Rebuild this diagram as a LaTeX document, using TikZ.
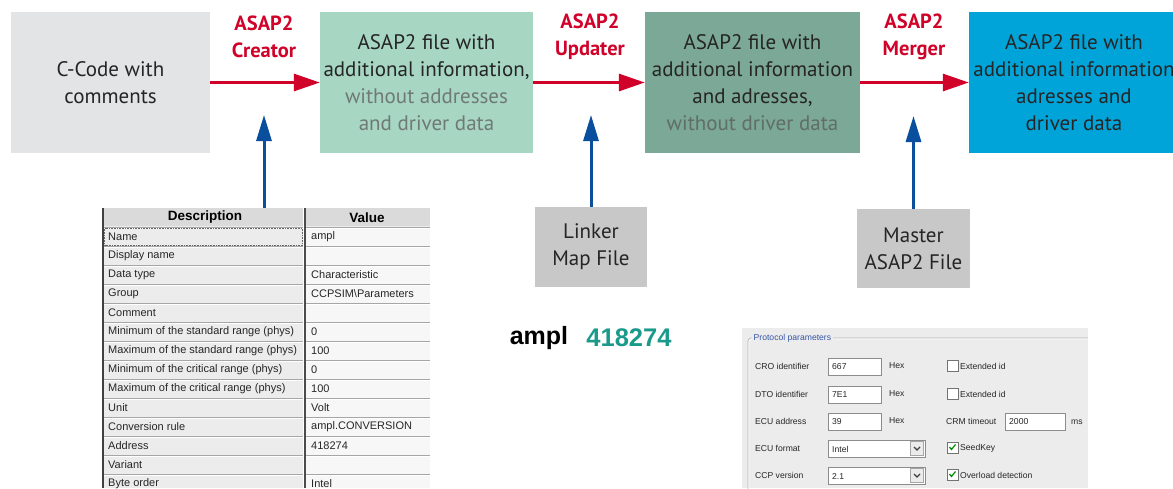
\documentclass[tikz,border=0pt]{standalone}
\usepackage{fontspec}
\setmainfont{Liberation Sans}
\newfontfamily\boxfont{PT Sans}
\newfontfamily\tabfont{Liberation Sans}
\usetikzlibrary{arrows.meta}
\definecolor{ccgray}{HTML}{E3E4E6}
\definecolor{grnA}{HTML}{A7D6C3}
\definecolor{grnB}{HTML}{7CA897}
\definecolor{bluebox}{HTML}{00A4D8}
\definecolor{srcgray}{HTML}{C8C8C8}
\definecolor{redarr}{HTML}{D0022A}
\definecolor{bluearr}{HTML}{0A4F9E}
\definecolor{txtdark}{HTML}{252525}
\definecolor{txtgrayA}{HTML}{6F7A75}
\definecolor{txtgrayB}{HTML}{5F6E67}
\definecolor{tealnum}{HTML}{1A9A8A}
\definecolor{panelbg}{HTML}{ECECEC}
\definecolor{tabbg}{HTML}{ECECEC}
\definecolor{tabhead}{HTML}{DADADA}
\definecolor{grplbl}{HTML}{3555A5}
\begin{document}
\begin{tikzpicture}[x=1pt,y=-1pt,
  flowbox/.style={rectangle, inner sep=0pt, align=center, text=txtdark,
    font=\boxfont\fontsize{21}{27}\selectfont},
  srcbox/.style={flowbox, fill=srcgray},
  toollbl/.style={align=center, text=redarr, inner sep=0pt,
    font=\boxfont\bfseries\fontsize{20.5}{27}\selectfont},
  redflow/.style={draw=redarr, line width=3pt, -{Triangle[length=26pt,width=17pt]}},
  blueflow/.style={draw=bluearr, line width=3pt, -{Triangle[length=26pt,width=15pt]}},
  tabtxt/.style={inner sep=0pt, anchor=west, text=black!85, font=\tabfont\fontsize{11}{12}\selectfont},
  ptxt/.style={inner sep=0pt, anchor=west, text=black!85, font=\tabfont\fontsize{8.6}{10}\selectfont},
  field/.style={draw=black!45, fill=white, line width=0.6pt},
  chk/.style={draw=black!55, fill=white, line width=0.7pt},
]
\useasboundingbox (0,0) rectangle (1173,488);
\clip (0,0) rectangle (1173,488);
\fill[white] (0,0) rectangle (1173,488);

% ---- main flow boxes ----
\node[flowbox, fill=ccgray, minimum width=199pt, minimum height=141pt] (cc) at (110.5,82.5)
  {C-Code with\\comments};
\node[flowbox, fill=grnA, minimum width=213pt, minimum height=141pt] (f1) at (426.5,82.5)
  {ASAP2 file with\\additional information,\\\textcolor{txtgrayA}{without addresses}\\\textcolor{txtgrayA}{and driver data}};
\node[flowbox, fill=grnB, minimum width=215pt, minimum height=141pt] (f2) at (752.5,82.5)
  {ASAP2 file with\\additional information\\and adresses,\\\textcolor{txtgrayB}{without driver data}};
\node[flowbox, fill=bluebox, minimum width=210pt, minimum height=141pt] (f3) at (1074,82.5)
  {ASAP2 file with\\additional information\\adresses and\\driver data};

% ---- tool labels ----
\node[toollbl] (crt) at (264,37) {ASAP2\\Creator};
\node[toollbl] (upd) at (590,37) {ASAP2\\Updater};
\node[toollbl] (mrg) at (914,37) {ASAP2\\Merger};

% ---- red arrows ----
\draw[redflow] (cc.east) -- (f1.west);
\draw[redflow] (f1.east) -- (f2.west);
\draw[redflow] (f2.east) -- (f3.west);

% ---- sources ----
\node[srcbox, minimum width=112pt, minimum height=80pt] (lk) at (591,247) {Linker\\Map File};
\node[srcbox, minimum width=113pt, minimum height=79pt] (ms) at (913.5,248.5) {Master\\ASAP2 File};

% ---- table ----
\node[rectangle, inner sep=0pt, minimum width=328pt, minimum height=280pt] (tbl) at (266,348) {};
\fill[tabbg] (102,208) rectangle (430,488);
\fill[tabhead] (102,208) rectangle (430,226);
\fill[black!3] (306,227) rectangle (430,488);
\foreach \d/\v [count=\i from 0] in {
  Name/ampl, Display name/, Data type/Characteristic,
  Group/CCPSIM\textbackslash Parameters, Comment/,
  Minimum of the standard range (phys)/0,
  Maximum of the standard range (phys)/100,
  Minimum of the critical range (phys)/0,
  Maximum of the critical range (phys)/100,
  Unit/Volt, Conversion rule/ampl.CONVERSION, Address/418274,
  Variant/, Byte order/Intel}{
  \pgfmathsetmacro\ry{227+19*\i}
  \draw[black!35, line width=0.6pt] (102,\ry) -- (430,\ry);
  \draw[white, line width=0.6pt] (103,\ry+1) -- (430,\ry+1);
  \node[tabtxt] (d\i) at (108,\ry+10) {\d};
  \node[tabtxt] (v\i) at (311,\ry+10) {\v};
}
\draw[black!75, line width=1.8pt] (103,208) -- (103,488);
\draw[black!70, line width=1.2pt] (305,208) -- (305,488);
\draw[white, line width=0.6pt] (303,208) -- (303,488);
\draw[black!60, densely dotted, line width=0.6pt] (104.5,228.5) rectangle (302.5,245);
\node[inner sep=0pt, font=\tabfont\bfseries\fontsize{13.5}{15}\selectfont] (hd) at (205,217.5) {Description};
\node[inner sep=0pt, font=\tabfont\bfseries\fontsize{13.5}{15}\selectfont] (hv) at (367,217.5) {Value};

% ---- blue arrows ----
\coordinate (ta) at (264,115);
\coordinate (la) at (591,115);
\coordinate (ma) at (913.5,116);
\draw[blueflow] (tbl.north -| ta) -- (ta);
\draw[blueflow] (lk.north) -- (la);
\draw[blueflow] (ms.north) -- (ma);

% ---- ampl 418274 ----
\node[inner sep=0pt, font=\tabfont\bfseries\fontsize{25}{27}\selectfont] (amp) at (539,338) {ampl};
\node[inner sep=0pt, text=tealnum, font=\tabfont\bfseries\fontsize{25.5}{27}\selectfont] (adr) at (629,338) {418274};

% ---- protocol panel ----
\fill[panelbg] (742,328) rectangle (1088,488);
\draw[black!30, rounded corners=3pt, line width=0.6pt] (748,500) -- (748,338) -- (1088,338);
\draw[white, rounded corners=3pt, line width=0.6pt] (749,500) -- (749,339) -- (1088,339);
\node[ptxt, fill=panelbg, inner xsep=1.5pt, text=grplbl] (pp) at (752,338) {Protocol parameters};

\node[ptxt] (l1) at (755,366) {CRO identifier};
\node[ptxt] (l2) at (755,394) {DTO identifier};
\node[ptxt] (l3) at (755,421) {ECU address};
\node[ptxt] (l4) at (755,448) {ECU format};
\node[ptxt] (l5) at (755,475) {CCP version};

\draw[field] (828,358) rectangle (881,375);
\draw[field] (828,386) rectangle (881,403);
\draw[field] (828,413) rectangle (881,430);
\node[ptxt] (e1) at (832,366.5) {667};
\node[ptxt] (e2) at (832,394.5) {7E1};
\node[ptxt] (e3) at (832,421.5) {39};
\node[ptxt] (h1) at (889,366) {Hex};
\node[ptxt] (h2) at (889,394) {Hex};
\node[ptxt] (h3) at (889,421) {Hex};

% dropdowns
\foreach \yy/\tt in {440/Intel, 467/2.1}{
  \draw[field] (828,\yy) rectangle (925,\yy+17);
  \fill[black!8] (910.5,\yy+1.5) rectangle (923.5,\yy+15.5);
  \draw[black!35, line width=0.5pt] (910.5,\yy+1.5) rectangle (923.5,\yy+15.5);
  \draw[black!75, line width=1.1pt] (914,\yy+7) -- (917,\yy+10) -- (920,\yy+7);
  \node[ptxt] at (832,\yy+9) {\tt};
}

% checkboxes
\draw[chk] (947,360) rectangle (958,371);
\draw[chk] (947,388) rectangle (958,399);
\draw[chk] (947,442) rectangle (958,453);
\draw[chk] (947,469) rectangle (958,480);
\draw[green!55!black, line width=1.2pt] (949.5,447) -- (951.5,449.5) -- (955.5,444.5);
\draw[green!55!black, line width=1.2pt] (949.5,474) -- (951.5,476.5) -- (955.5,471.5);
\node[ptxt] (c1) at (960,366) {Extended id};
\node[ptxt] (c2) at (960,394) {Extended id};
\node[ptxt] (c4) at (960,448) {SeedKey};
\node[ptxt] (c5) at (960,475) {Overload detection};
\node[ptxt] (crm) at (946,421) {CRM timeout};
\draw[field] (1005,413) rectangle (1065,430);
\node[ptxt] (crmv) at (1009,421.5) {2000};
\node[ptxt] (msl) at (1071,422) {ms};
\end{tikzpicture}
\end{document}
